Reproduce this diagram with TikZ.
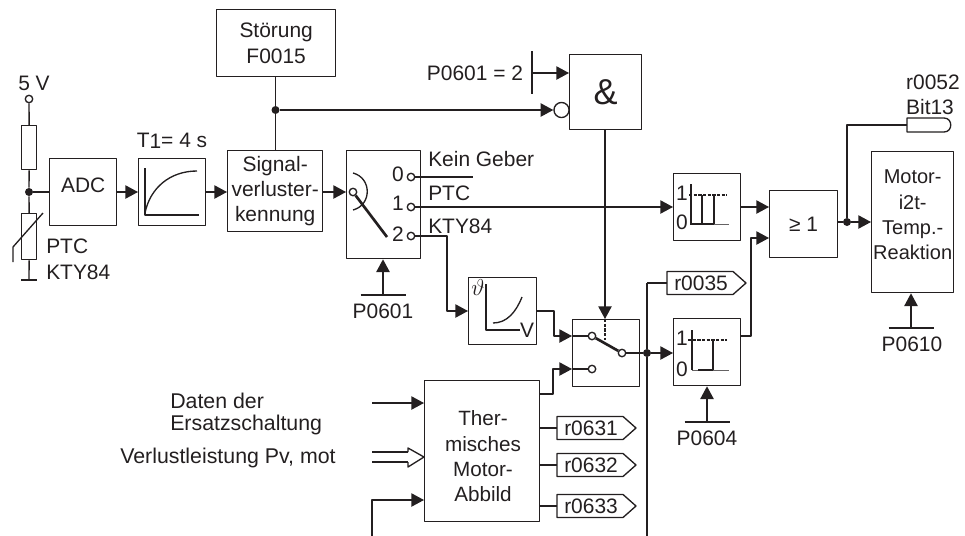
\documentclass[tikz,border=0pt]{standalone}
\usepackage{fontspec}
\setmainfont{Liberation Sans}
\usetikzlibrary{arrows.meta,calc}
\definecolor{ink}{HTML}{231F20}
\tikzset{
	block/.style={draw=ink, line width=1pt, inner sep=0pt, anchor=north west, align=center, label font},
	label font/.style={font=\fontsize{15.7pt}{19pt}\selectfont, text=ink},
	wire/.style={draw=ink, line width=1pt},
	flow/.style={wire, -{Triangle[length=9.5pt,width=10pt]}},
	thick wire/.style={draw=ink, line width=2pt},
	dash wire/.style={draw=ink, line width=1.5pt, dash pattern=on 2.4pt off 1.1pt},
	dot/.style={circle, fill=ink, inner sep=0pt, minimum size=6pt},
	port/.style={circle, draw=ink, fill=white, line width=1pt, inner sep=0pt, minimum size=5.6pt},
	tlabel/.style={label font, inner sep=0pt},
	sizedbox/.style n args={2}{block, minimum width=#1*0.75pt, minimum height=#2*0.75pt},
	tag/.style={wire, fill=white}
}
\newcommand{\addrtag}[3]{% name, left x, mid y
	\draw[tag] (#2,#3-11.5) -- (#2+66,#3-11.5) -- (#2+79,#3) -- (#2+66,#3+11.5) -- (#2,#3+11.5) -- cycle;
	\node[tlabel, anchor=west] (#1) at (#2+7,#3) {#1};
	\coordinate (#1in) at (#2,#3);
}
\newcommand{\parbar}[2]{% coordinate, half width
	\draw[wire] ($(#1)+(-#2,0)$) -- ($(#1)+(#2,0)$);
}
\begin{document}
\begin{tikzpicture}[x=0.75pt, y=-0.75pt, line join=round, >=stealth]
	\useasboundingbox (0,0) rectangle (965,536);
	% boxes
	\node[sizedbox={67}{67}] (adc) at (49,158) {ADC\\[-8pt]~};
	\node[sizedbox={67}{67}] (lag) at (138,158) {};
	\node[sizedbox={95}{81}] (sig) at (227,150) {Signal-\\verluster-\\kennung};
	\node[sizedbox={119}{67}] (err) at (216,9) {Störung\\F0015};
	\node[sizedbox={74}{108}] (sel) at (346,150) {};
	\node[sizedbox={72}{75}, font=\fontsize{27pt}{27pt}\selectfont] (and) at (569,54) {\&};
	\node[sizedbox={68}{67}] (kty) at (468,277) {};
	\node[sizedbox={67}{67}] (mux) at (572,319) {};
	\node[sizedbox={67}{67}] (hysa) at (673,173) {};
	\node[sizedbox={67}{67}] (hysb) at (673,318) {};
	\node[sizedbox={68}{67}] (orb) at (769,190) {≥ 1};
	\node[sizedbox={82}{141}, font=\fontsize{15pt}{19pt}\selectfont] (rea) at (871,151) {Motor-\\i2t-\\Temp.-\\Reaktion\\[-8pt]~};
	\node[sizedbox={115}{141}] (mod) at (424,380) {};
	\node[tlabel, align=center, font=\fontsize{15.5pt}{19pt}\selectfont] (modtext) at (483,456.5) {Ther-\\misches\\Motor-\\Abbild};
	% labels
	\node[tlabel] (lsup) at (34,83) {5 V};
	\node[tlabel, anchor=west] (lptc) at (46,246) {PTC};
	\node[tlabel, anchor=west] (lkty) at (46,272) {KTY84};
	\node[tlabel] (lt) at (172,141) {T\raisebox{-1pt}{1}= 4 s};
	\node[tlabel] (lpar) at (475,73) {P0601 = 2};
	\node[tlabel, anchor=west] (lnone) at (428,159) {Kein Geber};
	\node[tlabel, anchor=west] (lone) at (428,193) {PTC};
	\node[tlabel, anchor=west] (ltwo) at (428,226) {KTY84};
	\foreach \n/\t/\y in {nzero/0/174, none/1/203, ntwo/2/234}
		\node[tlabel] (\n) at (398,\y) {\t};
	\node[tlabel] (psel) at (383,311) {P0601};
	\node[tlabel] (phys) at (707,438) {P0604};
	\node[tlabel] (prea) at (912,344) {P0610};
	\node[tlabel] (lbita) at (933,82) {r0052};
	\node[tlabel] (lbitb) at (930,107) {Bit13};
	\node[tlabel, anchor=north west, align=left, font=\fontsize{16pt}{16pt}\selectfont] (ldata) at (170,393) {Daten der\\Ersatzschaltung};
	\node[tlabel, anchor=west, font=\fontsize{16pt}{19pt}\selectfont] (lloss) at (120,458) {Verlustleistung Pv, mot};
	% sensor branch
	\node[port] (sup) at (29,99) {};
	\node[dot] (tap) at (29,192) {};
	\node[sizedbox={15}{44}] (res) at (21,125) {};
	\node[sizedbox={15}{46}] (ptc) at (21,213) {};
	\coordinate (gnd) at (29,280);
	\draw[wire] (sup) -- (res.north);
	\draw[wire] (res.south) -- (tap) -- (ptc.north);
	\draw[wire] (ptc.south) -- (gnd);
	\parbar{gnd}{8}
	\draw[wire] (13,262) -- (13,247) -- (43,213);
	\draw[wire] (tap) -- (adc.west |- tap);
	% flows
	\draw[flow] (adc.east |- tap) -- (lag.west |- tap);
	\draw[flow] (lag.east |- tap) -- (sig.west |- tap);
	\draw[flow] (sig.east |- tap) -- (sel.west |- tap);
	\node[dot] (fault) at (275.5,110) {};
	\draw[wire] (err.south -| fault) -- (sig.north -| fault);
	\node[circle, draw=ink, line width=1pt, inner sep=0pt, minimum size=11.3pt] (neg) at (561.5,110) {};
	\draw[flow] (fault) -- (neg);
	\coordinate (barand) at (532,73);
	\draw[wire] (532,51) -- (532,94);
	\draw[flow] (barand) -- (and.west |- barand);
	\coordinate (andout) at (605,129);
	\draw[flow] (andout) -- (andout |- mux.north);
	% lag curve
	\draw[wire] (145,168) -- (145,215) -- (199,215);
	\draw[wire] (145,213) .. controls (150,188) and (170,171) .. (197,171);
	% selector
	\node[port] (selin) at (353,192) {};
	\node[port] (zero) at (411,177) {};
	\node[port] (one) at (411,207) {};
	\node[port] (two) at (411,236) {};
	\draw[wire] (353,173) .. controls (372,178) and (372,205) .. (353,210);
	\draw[thick wire] (selin) -- (387,237);
	\coordinate (nul) at (473,177);
	\draw[wire] (zero) -- (nul);
	\draw[flow] (one) -- (hysa.west |- one);
	\draw[flow] (two) -- (447,236) -- (447,311) -- (kty.west |- 0,311);
	\coordinate (barsel) at (383,295);
	\parbar{barsel}{22.5}
	\draw[flow] (barsel) -- (barsel |- sel.south);
	% kty curve
	\draw[wire] (486,284) -- (486,330) -- (520,330);
	\draw[wire] (493,323) .. controls (507,323) and (516,312) .. (522,297);
	\node[tlabel, font=\fontsize{18pt}{18pt}\selectfont] (ltheta) at (478,287) {$\vartheta$};
	\node[tlabel] (lvolt) at (527,330) {V};
	% multiplexer
	\node[port] (muxa) at (592,336) {};
	\node[port] (muxb) at (592,369) {};
	\node[port] (muxo) at (622,353) {};
	\draw[wire] (mux.west |- muxa) -- (muxa);
	\draw[wire] (mux.west |- muxb) -- (muxb);
	\draw[flow] (kty.east |- 0,311) -- (554,311) -- (554,336) -- (mux.west |- muxa);
	\draw[flow] (mod.east |- 0,394) -- (553,394) -- (553,369) -- (mux.west |- muxb);
	\draw[thick wire] (muxa) -- (muxo);
	\draw[dash wire] (605,319) -- (605,340);
	\node[dot] (mid) at (647,353) {};
	\draw[wire] (muxo) -- (mid);
	\draw[flow] (mid) -- (hysb.west |- mid);
	\coordinate (midup) at (647,283);
	\coordinate (middown) at (647,536);
	\draw[wire] (midup) -- (mid) -- (middown);
	% hysteresis
	\node[tlabel] (hysaone) at (682,193) {1};
	\node[tlabel] (hysazero) at (682,222) {0};
	\draw[wire] (691,184) -- (691,225);
	\draw[draw=ink!70, line width=.6pt] (691,224) -- (729,224);
	\draw[wire] (691,224) -- (714,224);
	\draw[dash wire] (689,195) -- (727,195);
	\draw[wire] (702,195) -- (702,224) (714,195) -- (714,224);
	\node[tlabel] (hysbone) at (682,338) {1};
	\node[tlabel] (hysbzero) at (682,369) {0};
	\draw[wire] (692,330) -- (692,370);
	\draw[draw=ink!70, line width=.6pt] (692,370) -- (729,370);
	\draw[wire] (698,370) -- (713,370);
	\draw[dash wire] (688,340) -- (727,340);
	\draw[wire] (713,340) -- (713,370);
	\coordinate (barhys) at (707,422);
	\parbar{barhys}{22.5}
	\draw[flow] (barhys) -- (barhys |- hysb.south);
	% logic
	\draw[flow] (hysa.east |- one) -- (orb.west |- one);
	\draw[flow] (hysb.east |- 0,336) -- (751,336) -- (751,238) -- (orb.west |- 0,238);
	\node[dot] (res1) at (847,222) {};
	\draw[wire] (orb.east |- res1) -- (res1);
	\draw[flow] (res1) -- (rea.west |- res1);
	\draw[wire, fill=white] (907,118) -- (944,118) .. controls (953,118) and (953,132) .. (944,132) -- (907,132) -- cycle;
	\coordinate (bitin) at (907,125);
	\draw[wire] (res1) -- (res1 |- bitin) -- (bitin);
	\coordinate (barrea) at (911,328);
	\parbar{barrea}{22.5}
	\draw[flow] (barrea) -- (barrea |- rea.south);
	% thermal model
	\coordinate (datain) at (372,403);
	\coordinate (lossa) at (372,452);
	\coordinate (lossb) at (372,462);
	\coordinate (fbin) at (372,536);
	\draw[flow] (datain) -- (datain -| mod.west);
	\draw[wire] (lossa) -- (408,452) (lossb) -- (408,462);
	\draw[wire, fill=white] (408,452) -- (408,448) -- (424,457) -- (408,467) -- (408,462);
	\draw[flow] (fbin) -- (372,500) -- (mod.west |- 0,500);
	\addrtag{r0035}{667}{283}
	\draw[wire] (midup) -- (r0035in);
	\addrtag{r0631}{557}{428}
	\draw[wire] (mod.east |- r0631in) -- (r0631in);
	\addrtag{r0632}{557}{465}
	\draw[wire] (mod.east |- r0632in) -- (r0632in);
	\addrtag{r0633}{557}{506}
	\draw[wire] (mod.east |- r0633in) -- (r0633in);
\end{tikzpicture}
\end{document}
